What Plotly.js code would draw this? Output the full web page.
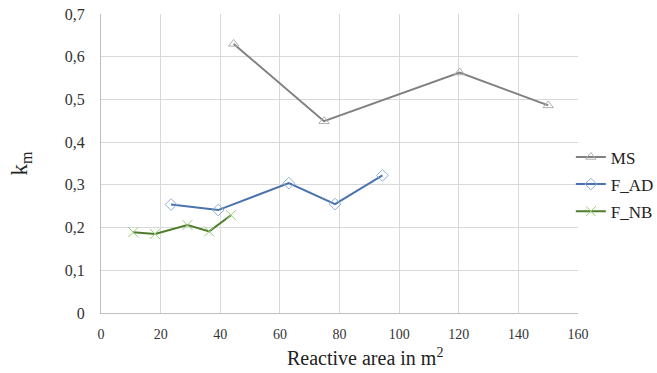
<!DOCTYPE html>
<html>
<head>
<meta charset="utf-8">
<script src="https://cdn.plot.ly/plotly-3.0.1.min.js"></script>
<style>html,body{margin:0;padding:0;background:#fff;}#chart{width:657px;height:373px;}</style>
</head>
<body>
<div id="chart"></div>
<script>
const msX = [44.5, 74.8, 120.3, 150];
const msY = [0.630, 0.449, 0.563, 0.486];
const adX = [23.5, 39.3, 63, 78.5, 94.4];
const adY = [0.254, 0.241, 0.304, 0.255, 0.322];
const nbX = [10.8, 18.1, 29, 36.3, 43.6];
const nbY = [0.189, 0.185, 0.206, 0.191, 0.229];
const seriesNames = ['MS', 'F_AD', 'F_NB'];
const xTicks = [0, 20, 40, 60, 80, 100, 120, 140, 160];
const yTicks = [0, 0.1, 0.2, 0.3, 0.4, 0.5, 0.6, 0.7];
const yTickText = ['0', '0,1', '0,2', '0,3', '0,4', '0,5', '0,6', '0,7'];
const xTitle = 'Reactive area in m<sup>2</sup>';
const yTitle = 'k<sub>m</sub>';

const FAM = 'Liberation Serif';
const traces = [
  {x: msX, y: msY, name: seriesNames[0], legendgroup: 'a', mode: 'lines+markers',
   line: {color: '#808080', width: 2},
   marker: {symbol: 'triangle-up-open', size: 9, color: '#b0b0b0', line: {width: 1}}},
  {x: adX, y: adY, name: seriesNames[1], legendgroup: 'b', mode: 'lines+markers',
   line: {color: '#4a72ad', width: 2},
   marker: {symbol: 'diamond-open', size: 9, color: '#8fb0dc', line: {width: 1}}},
  {x: nbX, y: nbY, name: seriesNames[2], legendgroup: 'c', mode: 'lines+markers',
   line: {color: '#4f7d2c', width: 2},
   marker: {symbol: 'x-thin-open', size: 10, color: '#9acd79', line: {width: 1, color: '#9acd79'}}}
];
const layout = {
  width: 657, height: 373,
  margin: {l: 101, r: 79, t: 14, b: 60, autoexpand: false},
  paper_bgcolor: '#fff', plot_bgcolor: '#fff',
  font: {family: FAM, size: 15, color: '#222'},
  showlegend: true,
  legend: {x: 0.985, y: 0.43, xanchor: 'left', yanchor: 'middle',
           bgcolor: 'rgba(0,0,0,0)',
           font: {family: FAM, size: 17, color: '#222'}, tracegroupgap: 2,
           itemwidth: 30},
  xaxis: {range: [0, 160], tickvals: xTicks, ticktext: xTicks.map(String),
          showgrid: true, gridcolor: '#d9d9d9', gridwidth: 1,
          showline: true, linecolor: '#bfbfbf', linewidth: 1,
          zeroline: false, ticks: '', ticklabelstandoff: 8,
          tickfont: {family: FAM, size: 14, color: '#333'}},
  yaxis: {range: [0, 0.7], tickvals: yTicks, ticktext: yTickText,
          showgrid: true, gridcolor: '#d9d9d9', gridwidth: 1,
          showline: true, linecolor: '#bfbfbf', linewidth: 1,
          zeroline: false, ticks: '', ticklabelstandoff: 12,
          tickfont: {family: FAM, size: 16, color: '#333'},
          title: {text: yTitle, standoff: 30,
                  font: {family: FAM, size: 23, color: '#222'}}},
  annotations: [{text: xTitle, xref: 'paper', yref: 'paper', x: 0.553, y: -0.147,
                 xanchor: 'center', yanchor: 'middle', showarrow: false,
                 font: {family: FAM, size: 20, color: '#222'}}]
};
Plotly.newPlot('chart', traces, layout, {displayModeBar: false, staticPlot: true});
</script>
</body>
</html>
